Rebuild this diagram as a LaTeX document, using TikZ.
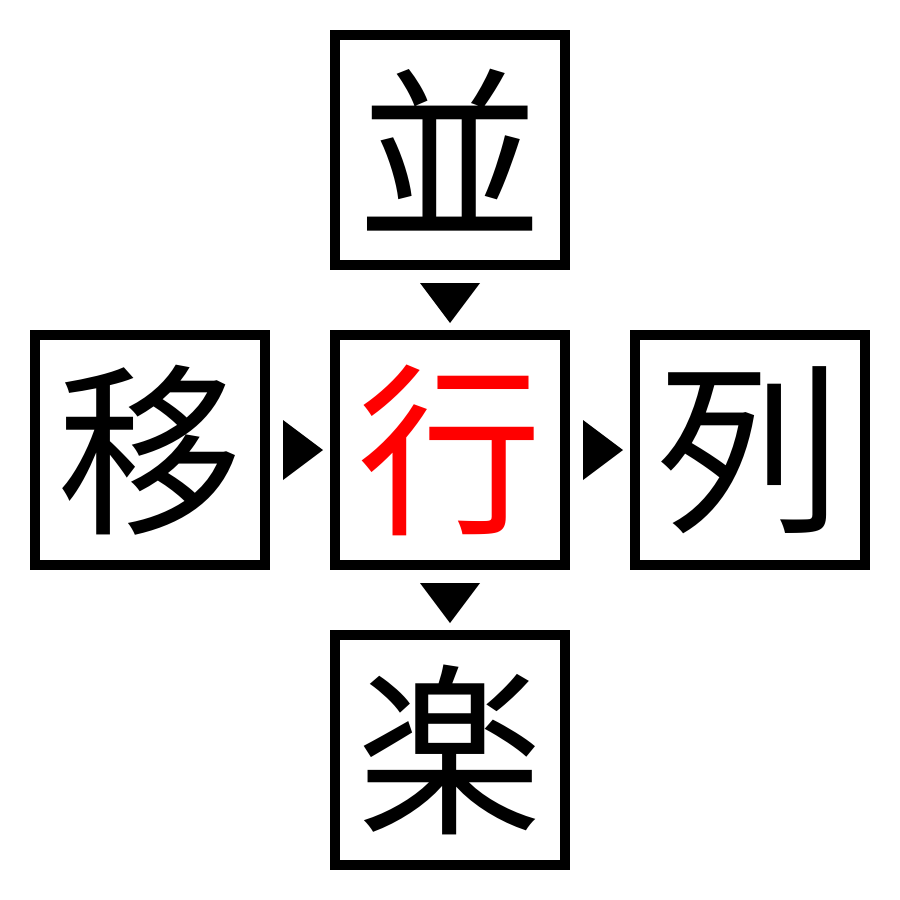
\documentclass[tikz,border=0pt]{standalone}
\usepackage{fontspec}
\newfontfamily\cjk{Noto Sans CJK JP}
\begin{document}
\begin{tikzpicture}[x=1pt,y=-1pt,
  kbox/.style={draw=black,line width=10pt,minimum size=230pt,inner sep=0pt,outer sep=5pt,
    font=\cjk\fontsize{185}{185}\selectfont},
  tri/.style={fill=black}]
\useasboundingbox (0,0) rectangle (900,900);
\node[kbox] (top) at (450,150) {並};
\node[kbox] (left) at (150,450) {移};
\node[kbox,text=red] (mid) at (450,450) {行};
\node[kbox] (right) at (750,450) {列};
\node[kbox] (bot) at (450,750) {楽};
% down triangles
\fill[tri] (420,283) -- (480,283) -- (450,323) -- cycle;
\fill[tri] (420,583) -- (480,583) -- (450,623) -- cycle;
% right triangles
\fill[tri] (283,420) -- (283,480) -- (323,450) -- cycle;
\fill[tri] (583,420) -- (583,480) -- (623,450) -- cycle;
\end{tikzpicture}
\end{document}
